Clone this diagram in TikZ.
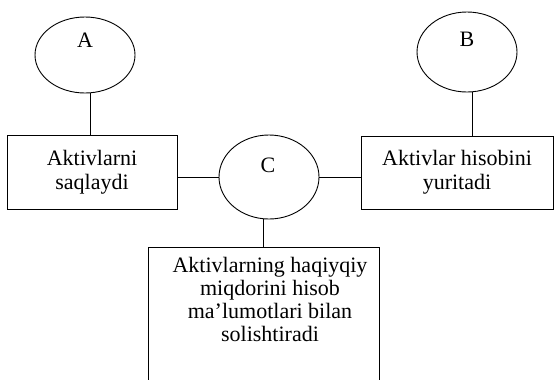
\documentclass[tikz,border=0pt]{standalone}
\usepackage{fontspec}
\setmainfont{Liberation Serif}
\usetikzlibrary{shapes.geometric}
\begin{document}
\begin{tikzpicture}[x=1bp,y=-1bp,
  line width=0.9bp,
  oval/.style={draw, ellipse, inner sep=0pt, minimum width=100bp},
  lbl/.style={inner sep=0pt, font=\fontsize{22bp}{24bp}\selectfont},
  box/.style={draw, rectangle, inner sep=0pt, align=center, font=\fontsize{22bp}{24bp}\selectfont},
  wire/.style={draw}]
\useasboundingbox (0,0) rectangle (554,379);
\clip (0,0) rectangle (554,379);
% ellipses
\node[oval, minimum height=76bp] (A) at (85,55) {};
\node[lbl] (Alab) at (85,40.5) {A};
\node[oval, minimum height=80bp] (B) at (467,52) {};
\node[lbl] (Blab) at (467,39.5) {B};
\node[oval, minimum height=84bp] (C) at (269,177) {};
\node[lbl] (Clab) at (268,165) {C};
% boxes
\node[box, minimum width=170bp, minimum height=74bp] (L) at (92,172) {Aktivlarni\\saqlaydi};
\node[box, minimum width=192bp, minimum height=73bp] (R) at (457,172.5) {Aktivlar hisobini\\yuritadi};
\node[box, anchor=north west, minimum width=231bp, minimum height=170bp] (D) at (148,247) {};
\node[lbl, align=center, anchor=north, font=\fontsize{22bp}{23bp}\selectfont] (Dtext) at (270,257)
  {Aktivlarning haqiyqiy\\miqdorini hisob\\ma'lumotlari bilan\\solishtiradi};
% connectors
\draw[wire] (A.-82) -- (A.-82 |- L.north);
\draw[wire] (B.-82) -- (B.-82 |- R.north);
\draw[wire] (C.west) -- (C.west -| L.east);
\draw[wire] (C.east) -- (C.east -| R.west);
\draw[wire] (C.-98) -- (C.-98 |- D.north);
\end{tikzpicture}
\end{document}
